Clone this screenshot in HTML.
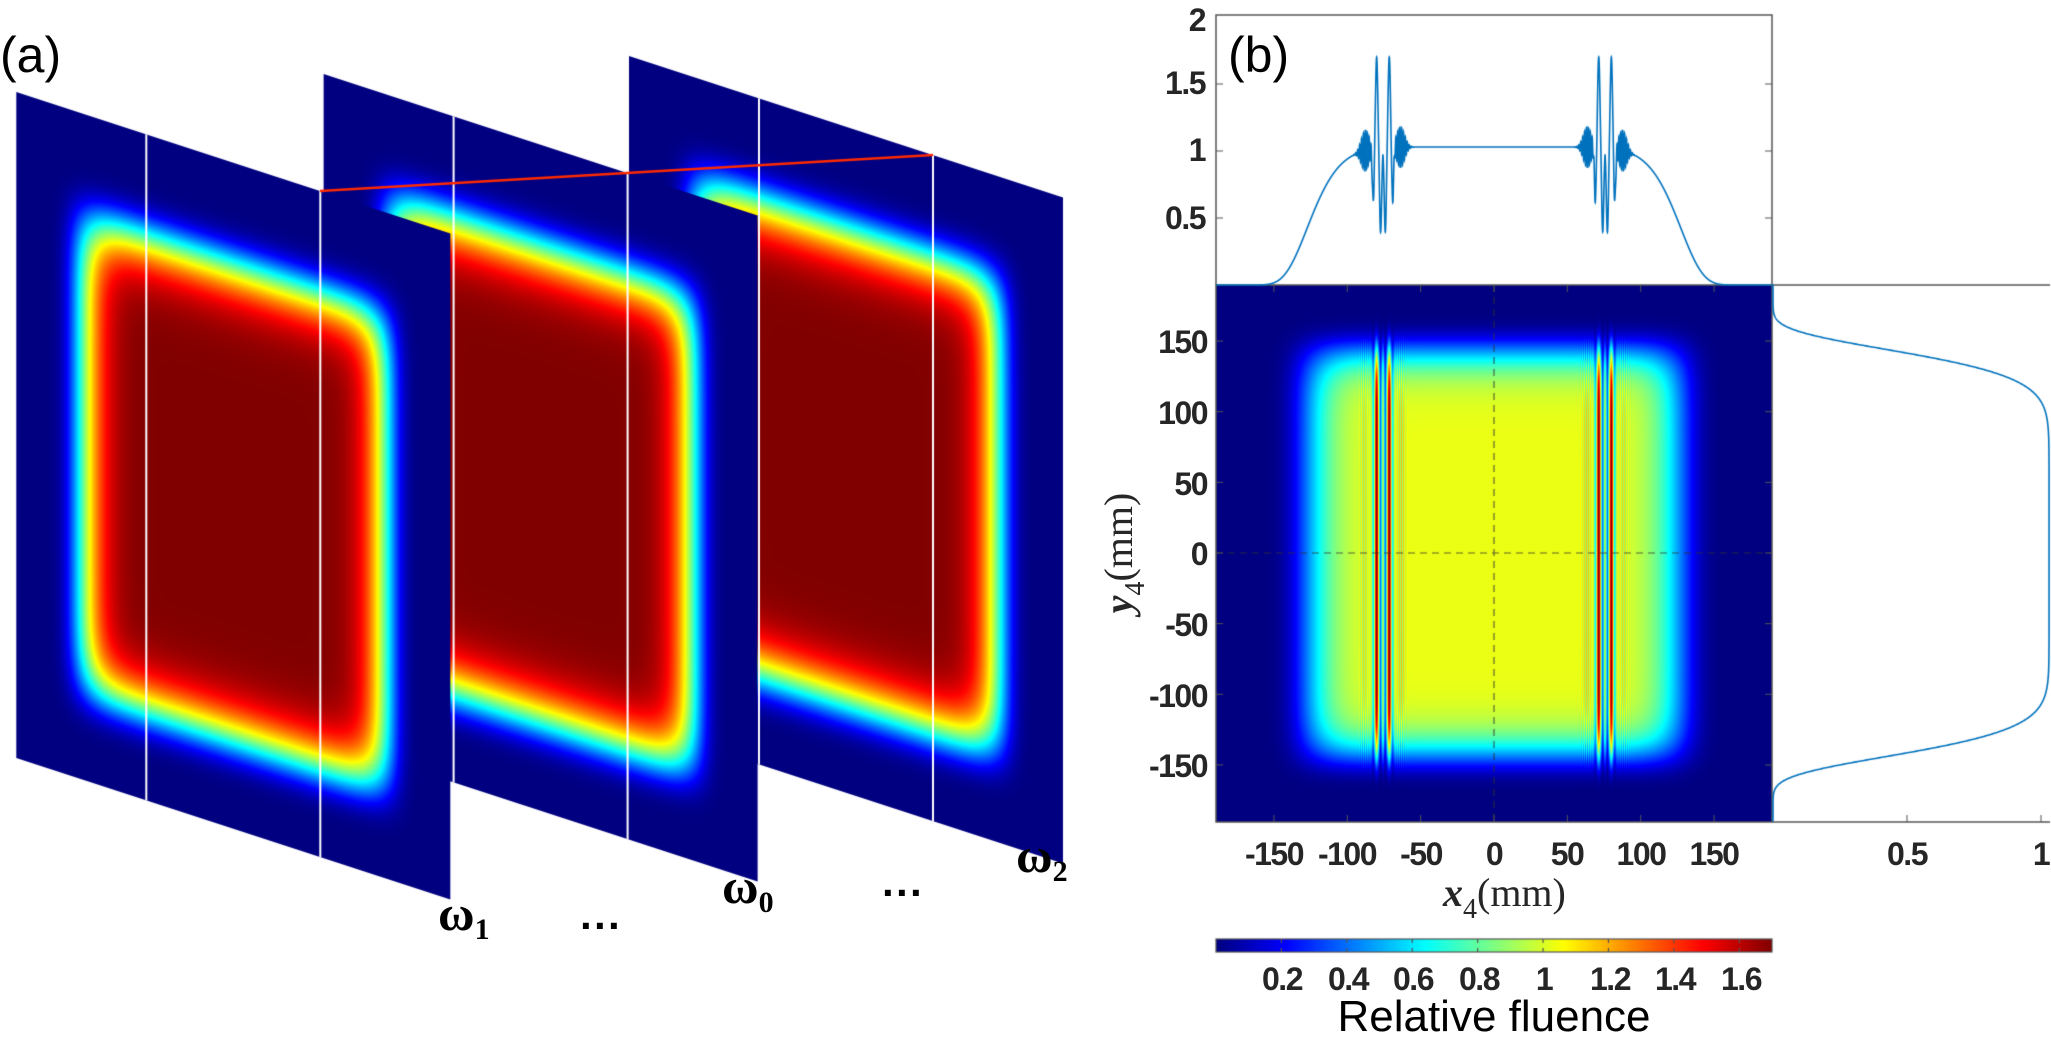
<!DOCTYPE html>
<html><head><meta charset="utf-8"><style>
html,body{margin:0;padding:0;background:#fff;}
#wrap{position:relative;width:2051px;height:1048px;overflow:hidden;}
canvas,svg{position:absolute;left:0;top:0;}
.t{font-family:"Liberation Sans",sans-serif;font-weight:bold;font-size:32px;fill:#262626;letter-spacing:-1.5px;}
</style></head><body><div id="wrap">
<canvas id="c" width="2051" height="1048"></canvas>
<svg width="2051" height="1048" viewBox="0 0 2051 1048">
<text x="0" y="72" font-family="Liberation Sans,sans-serif" font-size="50">(a)</text>
<text x="1228" y="72" font-family="Liberation Sans,sans-serif" font-size="50">(b)</text>
<g font-family="Liberation Serif,serif" font-weight="bold" font-size="50" fill="#000">
<text x="438" y="930">ω<tspan font-size="30" dy="9">1</tspan></text>
<text x="722" y="903">ω<tspan font-size="30" dy="9">0</tspan></text>
<text x="1016" y="872">ω<tspan font-size="30" dy="9">2</tspan></text>
</g>
<g font-family="Liberation Sans,sans-serif" font-weight="bold" font-size="42" fill="#000">
<text x="580" y="940">···</text>
<text x="882" y="907">···</text>
</g>
<g text-anchor="end">
<text x="1205" y="31" class="t">2</text>
<text x="1205" y="94" class="t">1.5</text>
<text x="1205" y="161" class="t">1</text>
<text x="1205" y="229" class="t">0.5</text>
</g>
<g text-anchor="end">
<text class="t" x="1207" y="353">150</text>
<text class="t" x="1207" y="424">100</text>
<text class="t" x="1207" y="495">50</text>
<text class="t" x="1207" y="565">0</text>
<text class="t" x="1207" y="636">-50</text>
<text class="t" x="1207" y="707">-100</text>
<text class="t" x="1207" y="777">-150</text>
</g>
<g text-anchor="middle">
<text class="t" x="1274" y="865">-150</text>
<text class="t" x="1347" y="865">-100</text>
<text class="t" x="1421" y="865">-50</text>
<text class="t" x="1494" y="865">0</text>
<text class="t" x="1567" y="865">50</text>
<text class="t" x="1641" y="865">100</text>
<text class="t" x="1714" y="865">150</text>
<text class="t" x="1907" y="865">0.5</text>
<text class="t" x="2041" y="865">1</text>
<text class="t" x="1282" y="990" font-size="29">0.2</text>
<text class="t" x="1348" y="990" font-size="29">0.4</text>
<text class="t" x="1413" y="990" font-size="29">0.6</text>
<text class="t" x="1479" y="990" font-size="29">0.8</text>
<text class="t" x="1544" y="990" font-size="29">1</text>
<text class="t" x="1610" y="990" font-size="29">1.2</text>
<text class="t" x="1675" y="990" font-size="29">1.4</text>
<text class="t" x="1741" y="990" font-size="29">1.6</text>
</g>
<text x="1494" y="1031" text-anchor="middle" font-family="Liberation Sans,sans-serif" font-size="44" fill="#000">Relative fluence</text>
<text x="1443" y="906" font-family="Liberation Serif,serif" font-size="40" fill="#262626"><tspan font-style="italic" font-weight="bold">x</tspan><tspan font-size="28" dy="12">4</tspan><tspan dy="-12">(mm)</tspan></text>
<text transform="translate(1132,553) rotate(-90)" text-anchor="middle" font-family="Liberation Serif,serif" font-size="40" fill="#262626"><tspan font-style="italic" font-weight="bold">y</tspan><tspan font-size="28" dy="12">4</tspan><tspan dy="-12">(mm)</tspan></text>
</svg>
</div>
<script>
(function(){
var cv=document.getElementById('c'),ctx=cv.getContext('2d');
function cl(v){return v<0?0:v>1?1:v;}
function jet(t){t=cl(t);return [cl(1.5-Math.abs(4*t-3))*255,cl(1.5-Math.abs(4*t-2))*255,cl(1.5-Math.abs(4*t-1))*255];}
var W=434,H=666;
var off=document.createElement('canvas');off.width=W;off.height=H;
var oc=off.getContext('2d');var id=oc.createImageData(W,H);
for(var v=0;v<H;v++){var fv=Math.exp(-Math.pow(Math.abs(v-339)/242,10));
 for(var u=0;u<W;u++){var fu=Math.exp(-Math.pow(Math.abs(u-217)/155,10));
  var c=jet(fu*fv);var k=(v*W+u)*4;id.data[k]=c[0];id.data[k+1]=c[1];id.data[k+2]=c[2];id.data[k+3]=255;}}
oc.putImageData(id,0,0);
var planes=[[629,56],[323.6,74],[16.3,92]];
planes.forEach(function(p){
 ctx.setTransform(1,0.326,0,1,p[0],p[1]);
 ctx.drawImage(off,0,0);
 ctx.strokeStyle='#fff';ctx.lineWidth=2;
 [130,304].forEach(function(x){ctx.beginPath();ctx.moveTo(x,0);ctx.lineTo(x,H);ctx.stroke();});
});
ctx.setTransform(1,0,0,1,0,0);
ctx.strokeStyle='#ff2a00';ctx.lineWidth=2.5;
ctx.beginPath();ctx.moveTo(320,191);ctx.lineTo(933,155);ctx.stroke();
var X0=1216,X1=1772,Y0=285,Y1=822,cx=1494,cy=553,sx=1.467,sy=1.413;
function fx(x){return Math.exp(-Math.pow(Math.abs(x)/129,9.4));}
function fy(y){return Math.exp(-Math.pow(Math.abs(y)/145.5,11.5));}
function osc(x){var d=Math.abs(x)-75.7;var a=Math.abs(d);
 return 0.68*Math.exp(-Math.pow((a-4.3)/1.1,2))-0.63*Math.exp(-Math.pow((a-1.6)/1.0,2))+0.0*Math.exp(-d*d)-0.4*Math.exp(-Math.pow((a-6.6)/0.9,2))
 +0.15*Math.sin(2*Math.PI*d/1.3)*Math.exp(-Math.pow((a-12)/4,2));}
function px(x){return fx(x)*1.03+osc(x);}
var mw=X1-X0,mh=Y1-Y0;var md=ctx.createImageData(mw,mh);
var row=[];for(var i=0;i<mw;i++){row.push(px((X0+i+0.5-cx)/sx));}
for(var j=0;j<mh;j++){var yy=(cy-(Y0+j+0.5))/sy;var f=fy(yy);
 for(var i=0;i<mw;i++){var c=jet(Math.max(0,row[i]*f)/1.7);var k=(j*mw+i)*4;
  md.data[k]=c[0];md.data[k+1]=c[1];md.data[k+2]=c[2];md.data[k+3]=255;}}
ctx.putImageData(md,X0,Y0);
ctx.strokeStyle='rgba(50,50,50,0.75)';ctx.lineWidth=1.2;ctx.setLineDash([7,5]);
ctx.beginPath();ctx.moveTo(X0,cy);ctx.lineTo(X1,cy);ctx.moveTo(cx,Y0);ctx.lineTo(cx,Y1);ctx.stroke();
ctx.setLineDash([]);
ctx.strokeStyle='#555';ctx.lineWidth=1.5;
ctx.strokeRect(X0,Y0,mw,mh);
ctx.beginPath();ctx.moveTo(X0,Y0);ctx.lineTo(X0,15);ctx.lineTo(X1,15);ctx.lineTo(X1,Y0);ctx.stroke();
ctx.beginPath();ctx.moveTo(X1,Y0);ctx.lineTo(2050,Y0);ctx.moveTo(X1,Y1);ctx.lineTo(2050,Y1);ctx.stroke();
ctx.lineWidth=1;
for(var t=-150;t<=150;t+=50){var xx=cx+t*sx;ctx.beginPath();ctx.moveTo(xx,Y1);ctx.lineTo(xx,Y1-7);ctx.moveTo(xx,Y0);ctx.lineTo(xx,Y0+7);ctx.stroke();
 var yv=cy-t*sy;ctx.beginPath();ctx.moveTo(X0,yv);ctx.lineTo(X0+7,yv);ctx.moveTo(X1,yv);ctx.lineTo(X1-7,yv);ctx.stroke();}
[0.5,1,1.5].forEach(function(v){var y=285-134*v;ctx.beginPath();ctx.moveTo(X0,y);ctx.lineTo(X0+7,y);ctx.moveTo(X1,y);ctx.lineTo(X1-7,y);ctx.stroke();});
[0.5,1].forEach(function(v){var x=1773+268*v;ctx.beginPath();ctx.moveTo(x,Y1);ctx.lineTo(x,Y1-7);ctx.stroke();});
ctx.strokeStyle='#0072bd';ctx.lineWidth=1.6;ctx.beginPath();
for(var x=-189.5;x<=189.5;x+=0.05){var X=cx+x*sx,Y=285-134*px(x);if(x==-189.5)ctx.moveTo(X,Y);else ctx.lineTo(X,Y);}
ctx.stroke();
ctx.beginPath();
for(var y=-190;y<=190;y+=0.2){var Y=cy-y*sy,X=1773+268*fy(y)*1.03;if(y==-190)ctx.moveTo(X,Y);else ctx.lineTo(X,Y);}
ctx.stroke();
var cb=ctx.createImageData(mw,13);
for(var i=0;i<mw;i++){var c=jet(i/mw);for(var j=0;j<13;j++){var k=(j*mw+i)*4;cb.data[k]=c[0];cb.data[k+1]=c[1];cb.data[k+2]=c[2];cb.data[k+3]=255;}}
ctx.putImageData(cb,X0,939);
ctx.strokeStyle='#555';ctx.lineWidth=1.2;ctx.strokeRect(X0,939,mw,13);
for(var v=0.2;v<1.65;v+=0.2){var x=X0+v/1.7*mw;ctx.beginPath();ctx.moveTo(x,939);ctx.lineTo(x,943);ctx.moveTo(x,952);ctx.lineTo(x,948);ctx.stroke();}
})();
</script>
</body></html>
